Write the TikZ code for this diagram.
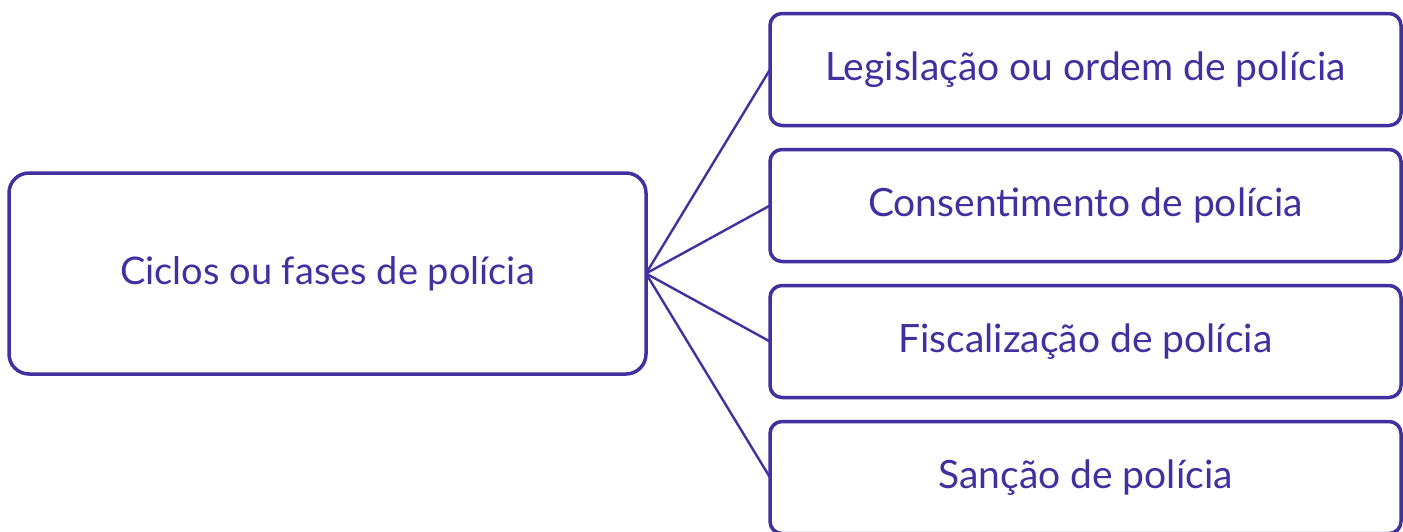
\documentclass[tikz,border=0pt]{standalone}
\usepackage{fontspec}
\setmainfont{Lato}
\usepackage{xcolor}
\usetikzlibrary{positioning}
\definecolor{cicloazul}{RGB}{64,48,160}

\begin{document}
\begin{tikzpicture}[x=1pt,y=-1pt,
  every node/.style={rectangle,draw=cicloazul,text=cicloazul,line width=3.5pt,outer sep=0pt},
  fase/.style={rounded corners=12pt,minimum width=631pt,minimum height=112pt,font=\fontsize{39}{46}\selectfont},
  ciclo/.style={rounded corners=20pt,minimum width=637pt,minimum height=201pt,font=\fontsize{38}{46}\selectfont},
  ligacao/.style={draw=cicloazul,line width=2.4pt}]
  \useasboundingbox (0,0) rectangle (1403,531);
  \node[ciclo] (ciclo) at (327.5,273.5) {Ciclos ou fases de polícia};
  \node[fase] (legislacao) at (1085.5,69.5) {Legislação ou ordem de polícia};
  \node[fase,below=24pt of legislacao] (consentimento) {Consentimento de polícia};
  \node[fase,below=24pt of consentimento] (fiscalizacao) {Fiscalização de polícia};
  \node[fase,below=24pt of fiscalizacao] (sancao) {Sanção de polícia};
  \foreach \f in {legislacao,consentimento,fiscalizacao,sancao}
    \draw[ligacao] (ciclo.east) -- (\f.west);
\end{tikzpicture}
\end{document}
